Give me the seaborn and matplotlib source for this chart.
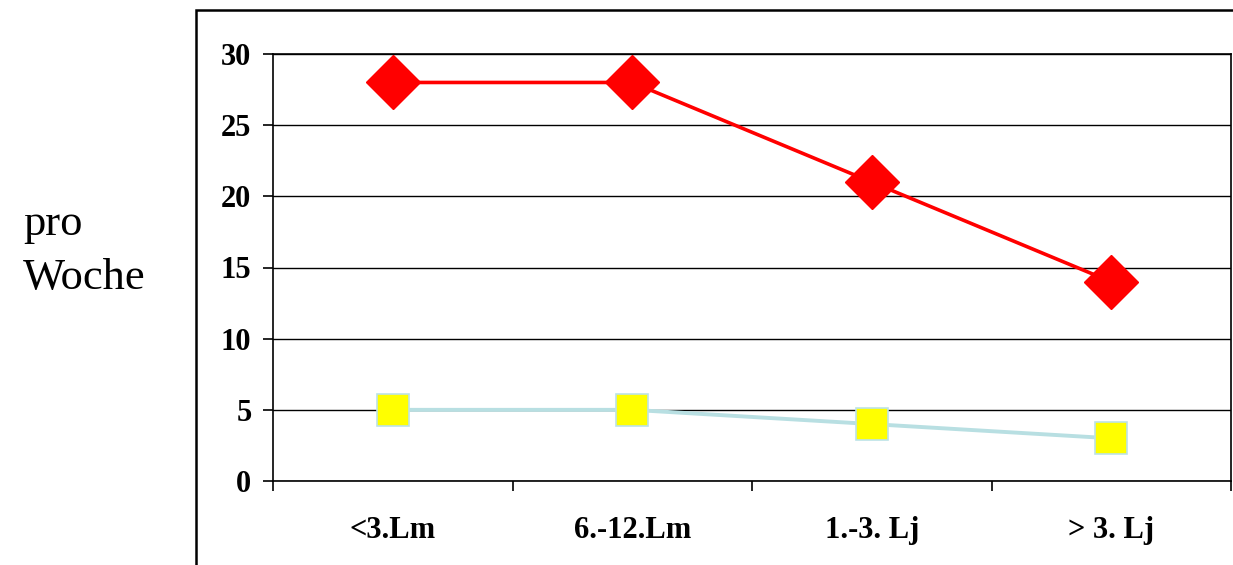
import matplotlib
matplotlib.use("Agg")
import matplotlib.pyplot as plt
from matplotlib.patches import Rectangle
from matplotlib.ticker import FixedLocator, NullFormatter, FixedFormatter
import pandas as pd
import seaborn as sns

# Data
categories = ["<3.Lm", "6.-12.Lm", "1.-3. Lj", "> 3. Lj"]
red_values = [28, 28, 21, 14]
yellow_values = [5, 5, 4, 3]
y_ticks = [0, 5, 10, 15, 20, 25, 30]

df_red = pd.DataFrame({"Alter": categories, "Wert": red_values})
df_yellow = pd.DataFrame({"Alter": categories, "Wert": yellow_values})

sns.set_theme(style="white")
plt.rcParams["font.family"] = ["Liberation Serif", "DejaVu Serif"]
plt.rcParams["text.color"] = "black"
plt.rcParams["xtick.color"] = "black"
plt.rcParams["ytick.color"] = "black"
plt.rcParams["xtick.labelcolor"] = "black"
plt.rcParams["ytick.labelcolor"] = "black"

W, H, DPI = 1233, 565, 100
fig = plt.figure(figsize=(W / DPI, H / DPI), dpi=DPI)
ax = fig.add_axes([273 / W, 1 - 481 / H, (1231 - 273) / W, (481 - 54) / H])

sns.lineplot(data=df_red, x="Alter", y="Wert", ax=ax, color="#FF0000",
             linewidth=2.6, marker="D", markersize=28,
             markerfacecolor="#FF0000", markeredgecolor="#FF0000",
             markeredgewidth=1, zorder=4, sort=False)
sns.lineplot(data=df_yellow, x="Alter", y="Wert", ax=ax, color="#B8DFE2",
             linewidth=2.8, marker="s", markersize=23,
             markerfacecolor="#FFFF00", markeredgecolor="#BCE3E6",
             markeredgewidth=1.2, zorder=3, sort=False)

ax.set_xlim(-0.5, len(categories) - 0.5)
ax.set_ylim(0, 30)
ax.set_xlabel("")
ax.set_ylabel("")

# Horizontal gridlines
ax.yaxis.set_major_locator(FixedLocator(y_ticks))
ax.set_yticklabels([str(v) for v in y_ticks], fontsize=22, fontweight="bold")
ax.grid(axis="y", color="black", linewidth=1.0)
ax.grid(axis="x", visible=False)
ax.set_axisbelow(True)

# Category boundaries as major ticks, labels centred on minor ticks
bounds = [i - 0.5 for i in range(len(categories) + 1)]
ax.xaxis.set_major_locator(FixedLocator(bounds))
ax.xaxis.set_major_formatter(NullFormatter())
ax.xaxis.set_minor_locator(FixedLocator(list(range(len(categories)))))
ax.xaxis.set_minor_formatter(FixedFormatter(categories))
for lbl in ax.get_xticklabels(minor=True):
    lbl.set_fontsize(22)
    lbl.set_fontweight("bold")

ax.tick_params(axis="x", which="major", direction="out", length=7, width=1.2,
               color="black", bottom=True)
ax.tick_params(axis="x", which="minor", length=0, pad=25, bottom=True)
ax.tick_params(axis="y", which="major", direction="out", length=7, width=1.2,
               color="black", pad=8.5, left=True)

for side in ["left", "bottom", "right", "top"]:
    ax.spines[side].set_visible(True)
    ax.spines[side].set_color("black")
    ax.spines[side].set_linewidth(1.2)

# Outer chart frame
fig.patches.append(Rectangle((196 / W, -0.2), 1.0, (1 - 9.5 / H) + 0.2,
                             transform=fig.transFigure, fill=False,
                             edgecolor="black", linewidth=1.8, zorder=0))

# Axis caption
fig.text(23 / W, 1 - 235 / H, "pro", fontsize=32, va="baseline", ha="left")
fig.text(23 / W, 1 - 289 / H, "Woche", fontsize=32, va="baseline", ha="left")

fig.savefig("out.png", dpi=DPI)
